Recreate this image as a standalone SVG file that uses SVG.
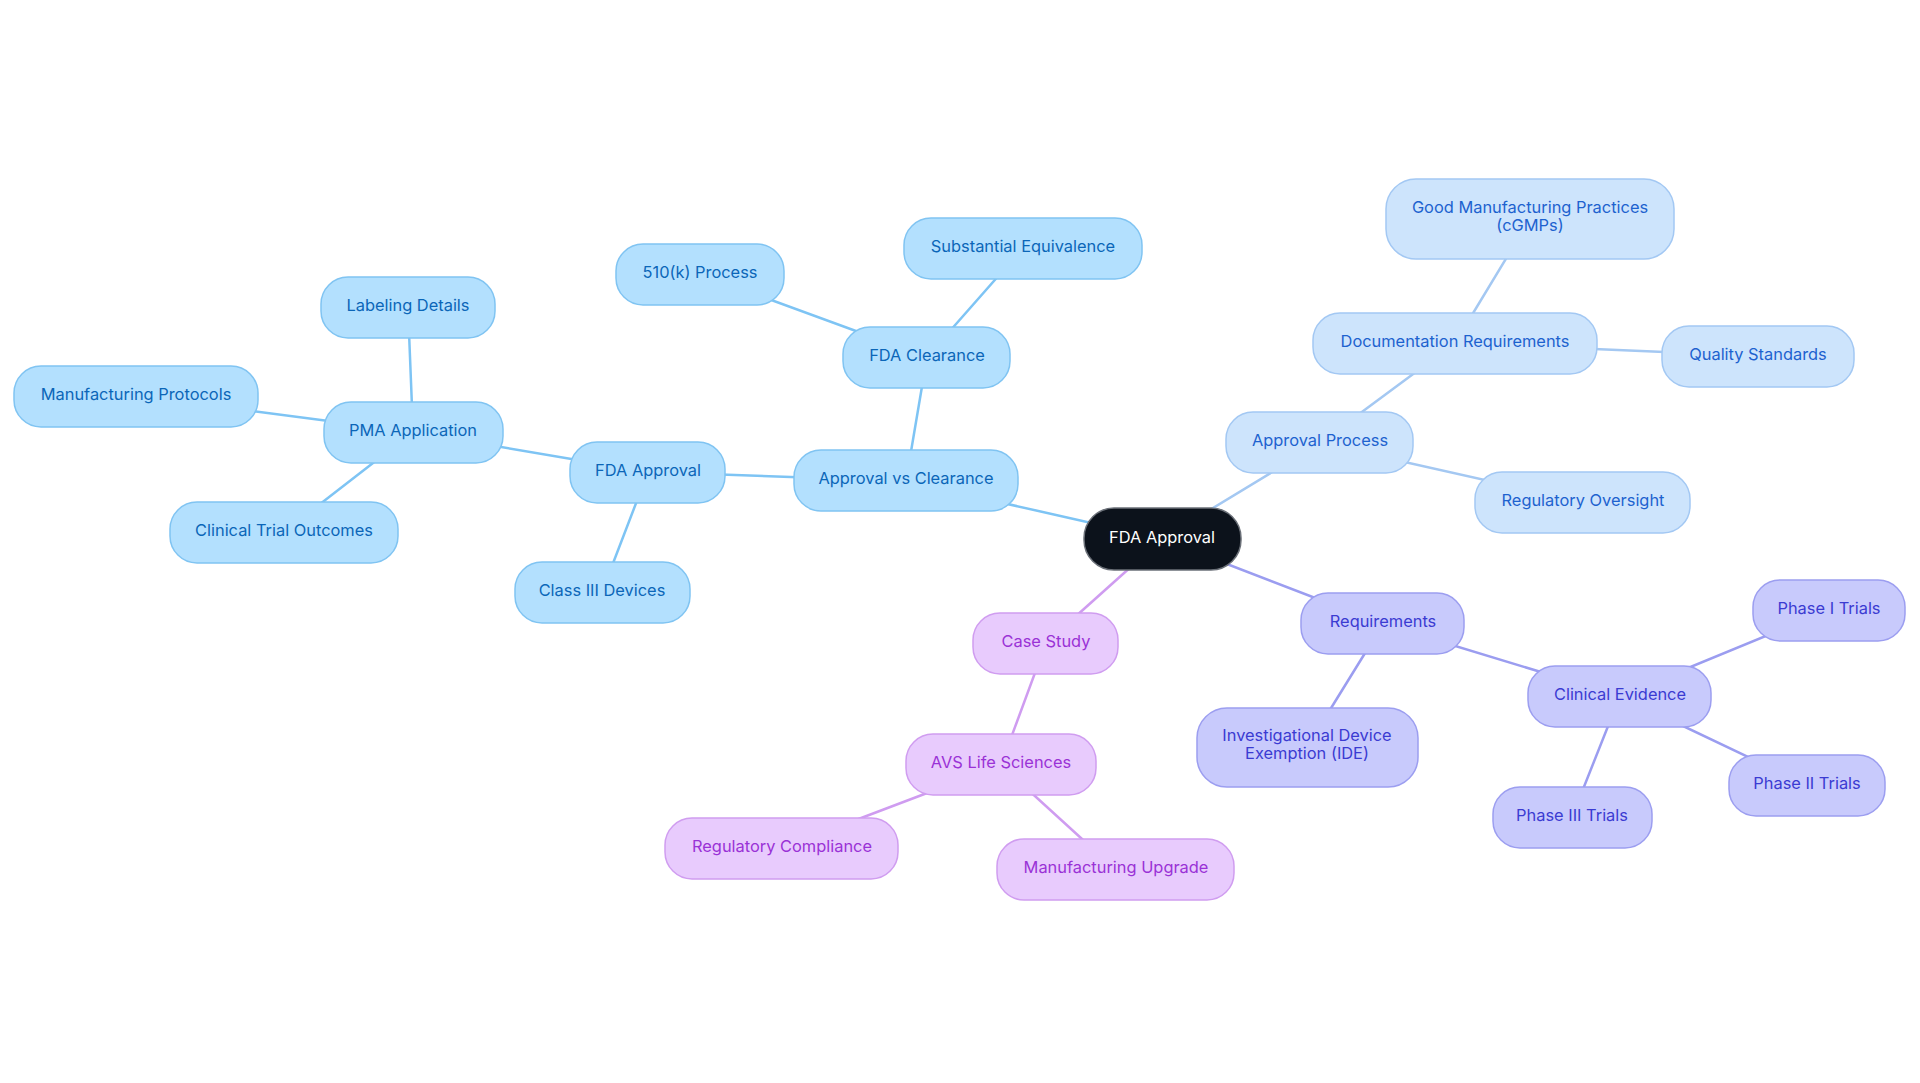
<svg xmlns="http://www.w3.org/2000/svg" width="1920" height="1083" viewBox="0 0 1920 1083">
<style>
text{font-family:Inter,"Noto Sans","Liberation Sans",sans-serif;font-size:16.4px;text-anchor:middle}
.c line{stroke-width:2.5;stroke-linecap:round}
.lb{stroke:#7ec4f4}
.ll{stroke:#a4c8f2}
.lp{stroke:#9b9df0}
.lk{stroke:#cf9cf0}
.nb rect{fill:#b3e0fe;stroke:#80c4f2;stroke-width:1.5}
.nb text{fill:#0b66b8}
.nl rect{fill:#cde4fc;stroke:#a3c8f3;stroke-width:1.5}
.nl text{fill:#1d62cf}
.np rect{fill:#c8cafc;stroke:#9c9ef0;stroke-width:1.5}
.np text{fill:#3b3bd2}
.nk rect{fill:#e8cbfd;stroke:#d09df0;stroke-width:1.5}
.nk text{fill:#9a32d6}
.root rect{fill:#0c121b;stroke:#6b7078;stroke-width:1.5}
.root text{fill:#ffffff}
</style>
<rect width="1920" height="1083" fill="#ffffff"/>
<g id="connectors" class="c">
<line class="lb" x1="1162" y1="539" x2="906" y2="481"/>
<line class="lb" x1="906" y1="481" x2="927" y2="357"/>
<line class="lb" x1="927" y1="357" x2="1023" y2="248"/>
<line class="lb" x1="927" y1="357" x2="700" y2="274"/>
<line class="lb" x1="906" y1="481" x2="648" y2="472"/>
<line class="lb" x1="648" y1="472" x2="413" y2="432"/>
<line class="lb" x1="648" y1="472" x2="602" y2="592"/>
<line class="lb" x1="413" y1="432" x2="408" y2="307"/>
<line class="lb" x1="413" y1="432" x2="136" y2="396"/>
<line class="lb" x1="413" y1="432" x2="284" y2="532"/>
<line class="ll" x1="1162" y1="539" x2="1320" y2="443"/>
<line class="ll" x1="1320" y1="443" x2="1455" y2="343"/>
<line class="ll" x1="1320" y1="443" x2="1583" y2="502"/>
<line class="ll" x1="1455" y1="343" x2="1530" y2="219"/>
<line class="ll" x1="1455" y1="343" x2="1758" y2="356"/>
<line class="lp" x1="1162" y1="539" x2="1383" y2="624"/>
<line class="lp" x1="1383" y1="624" x2="1307" y2="747"/>
<line class="lp" x1="1383" y1="624" x2="1620" y2="696"/>
<line class="lp" x1="1620" y1="696" x2="1829" y2="610"/>
<line class="lp" x1="1620" y1="696" x2="1807" y2="785"/>
<line class="lp" x1="1620" y1="696" x2="1572" y2="817"/>
<line class="lk" x1="1162" y1="539" x2="1046" y2="643"/>
<line class="lk" x1="1046" y1="643" x2="1001" y2="765"/>
<line class="lk" x1="1001" y1="765" x2="782" y2="848"/>
<line class="lk" x1="1001" y1="765" x2="1116" y2="870"/>
</g>
<g id="root" class="root"><rect x="1084" y="508" width="157" height="62" rx="30"/><text x="1162" y="543">FDA Approval</text></g>
<g id="approval-vs-clearance" class="nb"><rect x="794" y="450" width="224" height="61" rx="27"/><text x="906" y="484">Approval vs Clearance</text></g>
<g id="fda-clearance" class="nb"><rect x="843" y="327" width="167" height="61" rx="27"/><text x="927" y="361">FDA Clearance</text></g>
<g id="substantial-equivalence" class="nb"><rect x="904" y="218" width="238" height="61" rx="27"/><text x="1023" y="252">Substantial Equivalence</text></g>
<g id="510k-process" class="nb"><rect x="616" y="244" width="168" height="61" rx="27"/><text x="700" y="278">510(k) Process</text></g>
<g id="fda-approval-sub" class="nb"><rect x="570" y="442" width="155" height="61" rx="27"/><text x="648" y="476">FDA Approval</text></g>
<g id="pma-application" class="nb"><rect x="324" y="402" width="179" height="61" rx="27"/><text x="413" y="436">PMA Application</text></g>
<g id="labeling-details" class="nb"><rect x="321" y="277" width="174" height="61" rx="27"/><text x="408" y="311">Labeling Details</text></g>
<g id="manufacturing-protocols" class="nb"><rect x="14" y="366" width="244" height="61" rx="27"/><text x="136" y="400">Manufacturing Protocols</text></g>
<g id="clinical-trial-outcomes" class="nb"><rect x="170" y="502" width="228" height="61" rx="27"/><text x="284" y="536">Clinical Trial Outcomes</text></g>
<g id="class-iii-devices" class="nb"><rect x="515" y="562" width="175" height="61" rx="27"/><text x="602" y="596">Class III Devices</text></g>
<g id="approval-process" class="nl"><rect x="1226" y="412" width="187" height="61" rx="27"/><text x="1320" y="446">Approval Process</text></g>
<g id="documentation-requirements" class="nl"><rect x="1313" y="313" width="284" height="61" rx="27"/><text x="1455" y="347">Documentation Requirements</text></g>
<g id="gmp" class="nl"><rect x="1386" y="179" width="288" height="80" rx="30"/><text x="1530" y="213">Good Manufacturing Practices</text><text x="1530" y="231">(cGMPs)</text></g>
<g id="quality-standards" class="nl"><rect x="1662" y="326" width="192" height="61" rx="27"/><text x="1758" y="360">Quality Standards</text></g>
<g id="regulatory-oversight" class="nl"><rect x="1475" y="472" width="215" height="61" rx="27"/><text x="1583" y="506">Regulatory Oversight</text></g>
<g id="requirements" class="np"><rect x="1301" y="593" width="163" height="61" rx="27"/><text x="1383" y="627">Requirements</text></g>
<g id="ide" class="np"><rect x="1197" y="708" width="221" height="79" rx="30"/><text x="1307" y="741">Investigational Device</text><text x="1307" y="759">Exemption (IDE)</text></g>
<g id="clinical-evidence" class="np"><rect x="1528" y="666" width="183" height="61" rx="27"/><text x="1620" y="700">Clinical Evidence</text></g>
<g id="phase-i" class="np"><rect x="1753" y="580" width="152" height="61" rx="27"/><text x="1829" y="614">Phase I Trials</text></g>
<g id="phase-ii" class="np"><rect x="1729" y="755" width="156" height="61" rx="27"/><text x="1807" y="789">Phase II Trials</text></g>
<g id="phase-iii" class="np"><rect x="1493" y="787" width="159" height="61" rx="27"/><text x="1572" y="821">Phase III Trials</text></g>
<g id="case-study" class="nk"><rect x="973" y="613" width="145" height="61" rx="27"/><text x="1046" y="647">Case Study</text></g>
<g id="avs-life-sciences" class="nk"><rect x="906" y="734" width="190" height="61" rx="27"/><text x="1001" y="768">AVS Life Sciences</text></g>
<g id="regulatory-compliance" class="nk"><rect x="665" y="818" width="233" height="61" rx="27"/><text x="782" y="852">Regulatory Compliance</text></g>
<g id="manufacturing-upgrade" class="nk"><rect x="997" y="839" width="237" height="61" rx="27"/><text x="1116" y="873">Manufacturing Upgrade</text></g>
</svg>
